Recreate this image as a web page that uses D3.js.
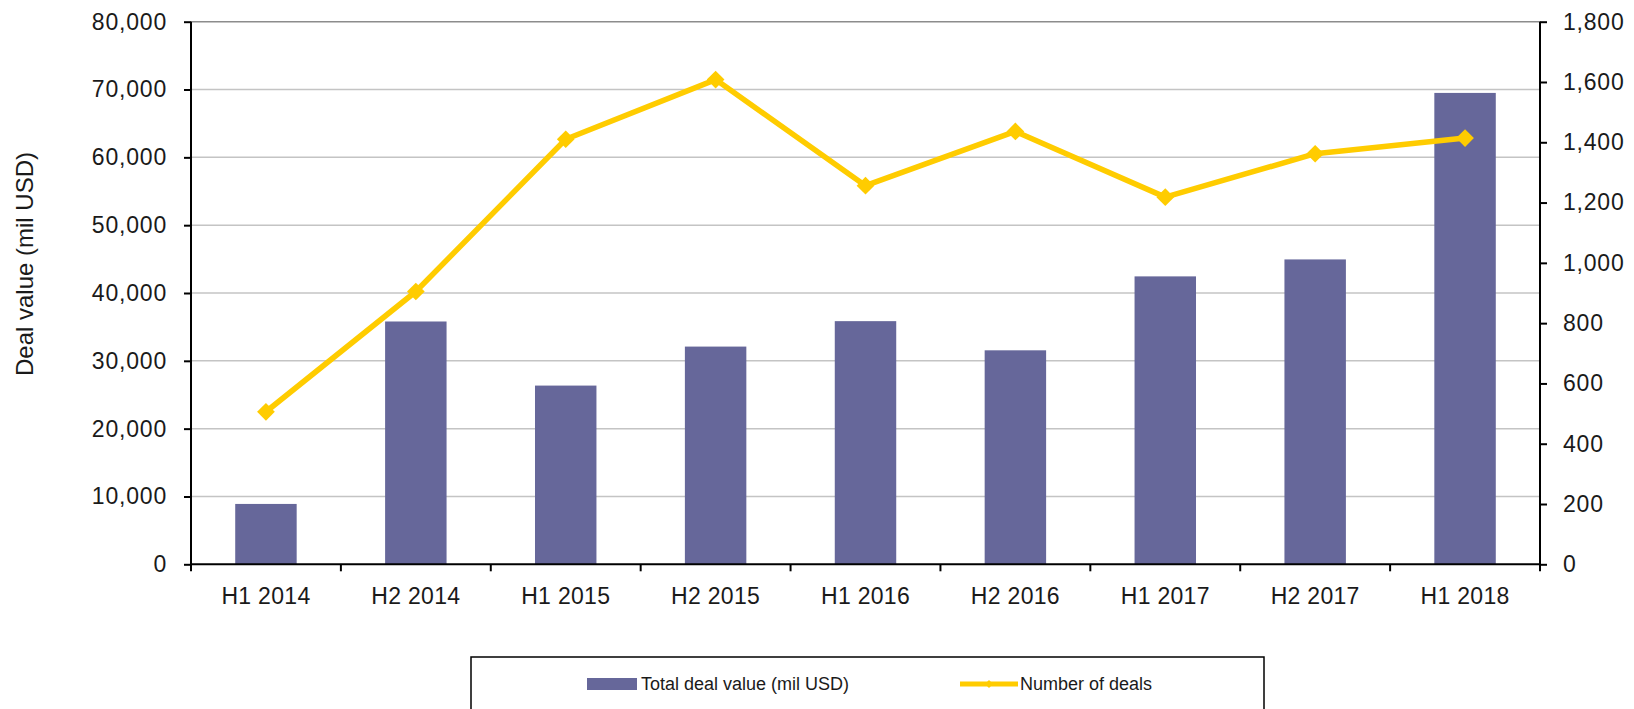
<!DOCTYPE html>
<html>
<head>
<meta charset="utf-8">
<script src="https://cdn.jsdelivr.net/npm/d3@7"></script>
<style>
  body { margin: 0; background: #fff; }
  svg text { font-family: "Liberation Sans", Arial, sans-serif; fill: #1a1a1a; }
</style>
</head>
<body>
<div class="container"></div>
<script>
var categories = ["H1 2014", "H2 2014", "H1 2015", "H2 2015", "H1 2016", "H2 2016", "H1 2017", "H2 2017", "H1 2018"];
var dealValue = [8900, 35800, 26350, 32100, 35850, 31550, 42450, 44950, 69500];
var dealCount = [506, 905, 1410, 1608, 1256, 1436, 1218, 1362, 1414];
var leftTicks = [0, 10000, 20000, 30000, 40000, 50000, 60000, 70000, 80000];
var rightTicks = [0, 200, 400, 600, 800, 1000, 1200, 1400, 1600, 1800];

const WIDTH = 1634;
const HEIGHT = 709;
const LEFT = 191;
const RIGHT = 1540;
const TOP = 21.7;
const BOTTOM = 564.3;

const BAR_COLOR = "#66679a";
const LINE_COLOR = "#ffcc00";

var translate = function(x, y){
	return "translate(" + x + "," + y + ")";
};

var svg = d3.select('.container').append('svg')
	.attr('width', WIDTH)
	.attr('height', HEIGHT);

var xScale = d3.scaleBand()
	.domain(categories)
	.range([LEFT, RIGHT])
	.padding(0);

var yLeft = d3.scaleLinear()
	.domain([0, 80000])
	.range([BOTTOM, TOP]);

var yRight = d3.scaleLinear()
	.domain([0, 1800])
	.range([BOTTOM, TOP]);

// gridlines
svg.append('g').selectAll('line')
	.data(leftTicks.slice(1))
	.enter().append('line')
	.attr('x1', LEFT).attr('x2', RIGHT)
	.attr('y1', function(d){ return yLeft(d); })
	.attr('y2', function(d){ return yLeft(d); })
	.attr('stroke', function(d){ return d === 80000 ? '#8c8c8c' : '#c4c4c4'; })
	.attr('stroke-width', 1.5);

// bars
var barW = xScale.bandwidth() * 0.41;
svg.append('g').selectAll('rect')
	.data(dealValue)
	.enter().append('rect')
	.attr('x', function(d, i){ return xScale(categories[i]) + (xScale.bandwidth() - barW) / 2; })
	.attr('y', function(d){ return yLeft(d); })
	.attr('width', barW)
	.attr('height', function(d){ return BOTTOM - yLeft(d); })
	.attr('fill', BAR_COLOR);

// axes
var leftAxis = d3.axisLeft(yLeft)
	.tickValues(leftTicks)
	.tickSize(7)
	.tickPadding(17)
	.tickFormat(d3.format(','));

var rightAxis = d3.axisRight(yRight)
	.tickValues(rightTicks)
	.tickSize(7)
	.tickPadding(16)
	.tickFormat(d3.format(','));

var bottomAxis = d3.axisBottom(xScale)
	.tickSize(0)
	.tickPadding(23);

var gl = svg.append('g').attr('transform', translate(LEFT, 0)).call(leftAxis);
var gr = svg.append('g').attr('transform', translate(RIGHT, 0)).call(rightAxis);
var gb = svg.append('g').attr('transform', translate(0, BOTTOM)).call(bottomAxis);

[gl, gr, gb].forEach(function(g){
	g.select('.domain').attr('stroke', '#000').attr('stroke-width', 2);
	g.selectAll('.tick line').attr('stroke', '#000').attr('stroke-width', 2);
	g.selectAll('.tick text').attr('font-size', 23).attr('fill', '#1a1a1a');
	g.attr('font-family', null);
});
gl.selectAll('.tick text').attr('letter-spacing', 0.8);
gr.selectAll('.tick text').attr('letter-spacing', 0.8);
gb.selectAll('.tick text').attr('letter-spacing', 0.3);
gl.select('.domain').attr('d', 'M0,' + TOP + 'V' + BOTTOM);
gr.select('.domain').attr('d', 'M0,' + TOP + 'V' + BOTTOM);
gb.select('.domain').attr('d', 'M' + LEFT + ',0H' + RIGHT);

// category boundary ticks
var bounds = categories.map(function(c){ return xScale(c); }).concat([RIGHT]);
gb.append('g').selectAll('line')
	.data(bounds)
	.enter().append('line')
	.attr('x1', function(d){ return d; })
	.attr('x2', function(d){ return d; })
	.attr('y1', 0).attr('y2', 7)
	.attr('stroke', '#000').attr('stroke-width', 2);

// line series
var cx = function(i){ return xScale(categories[i]) + xScale.bandwidth() / 2; };
var line = d3.line()
	.x(function(d, i){ return cx(i); })
	.y(function(d){ return yRight(d); });

svg.append('path')
	.attr('d', line(dealCount))
	.attr('fill', 'none')
	.attr('stroke', LINE_COLOR)
	.attr('stroke-width', 5.5)
	.attr('stroke-linejoin', 'round');

var diamond = d3.symbol().type(d3.symbolDiamond2).size(200);
svg.append('g').selectAll('path')
	.data(dealCount)
	.enter().append('path')
	.attr('d', diamond)
	.attr('transform', function(d, i){ return translate(cx(i), yRight(d)); })
	.attr('fill', LINE_COLOR);

// y axis title
svg.append('text')
	.attr('transform', translate(33, 264) + ' rotate(-90)')
	.attr('text-anchor', 'middle')
	.attr('font-size', 24)
	.text('Deal value (mil USD)');

// legend
var legend = svg.append('g');
legend.append('rect')
	.attr('x', 471).attr('y', 657)
	.attr('width', 793).attr('height', 70)
	.attr('fill', 'none')
	.attr('stroke', '#000')
	.attr('stroke-width', 1.5);

legend.append('rect')
	.attr('x', 587).attr('y', 678)
	.attr('width', 50).attr('height', 12)
	.attr('fill', BAR_COLOR);
legend.append('text')
	.attr('x', 641).attr('y', 690)
	.attr('font-size', 18)
	.text('Total deal value (mil USD)');

legend.append('line')
	.attr('x1', 960).attr('x2', 1018)
	.attr('y1', 684).attr('y2', 684)
	.attr('stroke', LINE_COLOR)
	.attr('stroke-width', 5);
legend.append('path')
	.attr('d', d3.symbol().type(d3.symbolDiamond2).size(40))
	.attr('transform', translate(989, 684))
	.attr('fill', LINE_COLOR);
legend.append('text')
	.attr('x', 1020).attr('y', 690)
	.attr('font-size', 18)
	.text('Number of deals');
</script>
</body>
</html>
